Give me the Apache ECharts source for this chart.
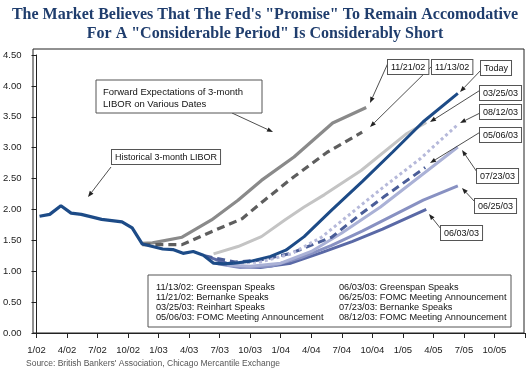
<!DOCTYPE html>
<html>
<head>
<meta charset="utf-8">
<script src="https://cdn.jsdelivr.net/npm/echarts@6/dist/echarts.min.js"></script>
<style>
  html, body { margin: 0; padding: 0; background: #fff; }
  #chart { width: 530px; height: 376px; }
</style>
</head>
<body>
<div id="chart"></div>
<script>
// months since 1/02 on the x axis
const tickLabels = ['1/02','4/02','7/02','10/02','1/03','4/03','7/03','10/03','1/04','4/04','7/04','10/04','1/05','4/05','7/05','10/05',''];

// historical 3-month LIBOR
const histX = [0.3,1.3,2.4,3.4,4.4,5.4,6.4,7.4,8.4,9.4,10.4,11.4,12.4,13.4,14.4,15.4,16.4,17.4,18.4,19.4];
const histY = [1.89,1.92,2.06,1.94,1.92,1.88,1.84,1.82,1.80,1.70,1.44,1.40,1.36,1.35,1.29,1.32,1.26,1.13,1.12,1.13];

// forward curves
const todayX = [19.4,21,23,24.5,26.3,29,32,35,38,41.4];
const todayY = [1.13,1.16,1.24,1.34,1.56,1.99,2.45,2.93,3.42,3.88];
const nov21X = [10.4,11.4,14.3,17.2,19.8,22.1,25.3,29.1,32.4];
const nov21Y = [1.45,1.46,1.55,1.83,2.15,2.47,2.85,3.40,3.65];
const nov13X = [10.4,14.3,17.2,20.2,22.4,25.3,28.6,32];
const nov13Y = [1.43,1.43,1.64,1.85,2.15,2.53,2.93,3.25];
const mar25X = [17.4,19.8,22.1,24.4,26.3,28.3,31.9,36.4,38.3];
const mar25Y = [1.28,1.40,1.56,1.83,2.04,2.24,2.63,3.23,3.41];
const aug12X = [19.5,22,25,28,31,34,37.7,41.3];
const aug12Y = [1.13,1.15,1.28,1.55,1.95,2.35,2.82,3.36];
const may06X = [16.5,19.5,22,25,29,31.5,34.1,38.2];
const may06Y = [1.25,1.15,1.18,1.29,1.55,1.88,2.20,2.68];
const jul23X = [18.7,21,24,27,30,33.8,41.4];
const jul23Y = [1.10,1.08,1.13,1.32,1.62,2.04,3.01];
const jun25X = [17.8,20,23,26,29,32,35,38,41.4];
const jun25Y = [1.12,1.06,1.08,1.22,1.42,1.65,1.90,2.15,2.38];
const jun03X = [17.1,19.5,22,25,28,31,34,38.3];
const jun03Y = [1.22,1.08,1.06,1.13,1.30,1.48,1.68,2.00];

const legendLeft = ['11/13/02: Greenspan Speaks','11/21/02: Bernanke Speaks','03/25/03: Reinhart Speaks','05/06/03: FOMC Meeting Announcement'];
const legendRight = ['06/03/03: Greenspan Speaks','06/25/03: FOMC Meeting Announcement','07/23/03: Bernanke Speaks','08/12/03: FOMC Meeting Announcement'];

const pairs = (xs, ys) => xs.map((x, i) => [x, ys[i]]);
const FONT = '"Liberation Sans", Arial, sans-serif';

function line(name, xs, ys, color, type, width) {
  return {
    name, type: 'line', data: pairs(xs, ys), showSymbol: false, symbol: 'none',
    lineStyle: { color, width: width || 3, type: type || 'solid', cap: 'butt' },
    emphasis: { disabled: true }, silent: true, animation: false
  };
}

// arrow from (x1,y1) to tip (x2,y2)
function arrow(x1, y1, x2, y2) {
  const a = Math.atan2(y2 - y1, x2 - x1), L = 6, W = 2.3;
  const bx = x2 - L * Math.cos(a), by = y2 - L * Math.sin(a);
  return [
    { type: 'line', shape: { x1, y1, x2: bx, y2: by }, style: { stroke: '#222', lineWidth: 0.8 }, z: 50 },
    { type: 'polygon', shape: { points: [[x2, y2], [bx + W * Math.sin(a), by - W * Math.cos(a)], [bx - W * Math.sin(a), by + W * Math.cos(a)]] }, style: { fill: '#222' }, z: 50 }
  ];
}

function box(text, x, y) {
  return {
    type: 'text', x, y, z: 60,
    style: { text, font: '9px ' + FONT, fill: '#111', backgroundColor: '#fff',
      borderColor: '#555', borderWidth: 1, padding: [3, 3, 2, 3] }
  };
}

const graphics = [
  // plot frame
  { type: 'rect', shape: { x: 33, y: 49, width: 491, height: 284 }, style: { fill: 'none', stroke: '#222', lineWidth: 1 }, z: 1 },
  // big annotation boxes
  { type: 'rect', shape: { x: 96, y: 80, width: 166, height: 33 }, style: { fill: '#fff', stroke: '#555', lineWidth: 1 }, z: 60 },
  { type: 'text', x: 103, y: 86, z: 61, style: { text: 'Forward Expectations of 3-month\nLIBOR on Various Dates', font: '9.5px ' + FONT, fill: '#111', lineHeight: 12 } },
  ...arrow(232, 113, 273, 132),
  box('Historical 3-month LIBOR', 112, 150),
  ...arrow(111, 167, 88, 197),
  // date labels
  box('11/21/02', 388, 60), ...arrow(388, 63, 370, 103),
  box('11/13/02', 432, 60), ...arrow(434, 64, 370, 127),
  box('Today', 481, 61), ...arrow(482, 69, 460, 92),
  box('03/25/03', 480, 86), ...arrow(482, 89, 430, 122),
  box('08/12/03', 480, 105), ...arrow(482, 112, 460, 123),
  box('05/06/03', 480, 128), ...arrow(482, 131, 430, 163),
  box('07/23/03', 477, 169), ...arrow(477, 172, 462, 150),
  box('06/25/03', 475, 199), ...arrow(475, 202, 462, 188),
  box('06/03/03', 441, 226), ...arrow(441, 229, 429, 214),
  // legend box
  { type: 'rect', shape: { x: 148, y: 275, width: 363, height: 52 }, style: { fill: '#fff', stroke: '#555', lineWidth: 1 }, z: 60 },
  { type: 'text', x: 156, y: 283, z: 61, style: { text: legendLeft.join('\n'), font: '9.2px ' + FONT, fill: '#111', lineHeight: 9.8 } },
  { type: 'text', x: 339, y: 283, z: 61, style: { text: legendRight.join('\n'), font: '9.2px ' + FONT, fill: '#111', lineHeight: 9.8 } },
  // source
  { type: 'text', x: 26, y: 359, style: { text: "Source: British Bankers' Association, Chicago Mercantile Exchange", font: '8.5px ' + FONT, fill: '#555' } }
];

const chart = echarts.init(document.getElementById('chart'), null, { renderer: 'canvas' });
chart.setOption({
  animation: false,
  title: {
    text: 'The Market Believes That The Fed\'s "Promise" To Remain Accomodative\nFor A "Considerable Period" Is Considerably Short',
    left: 'center', top: 0,
    textStyle: { fontFamily: '"Liberation Serif", serif', fontWeight: 'bold', fontSize: 16, color: '#1f3d6d', lineHeight: 19 }
  },
  grid: { left: 33, right: 5, top: 55, bottom: 43, containLabel: false },
  xAxis: {
    type: 'value', min: 0, max: 48, interval: 3,
    axisLine: { onZero: false, lineStyle: { color: '#222', width: 1 } },
    axisTick: { length: 5, lineStyle: { color: '#222' } },
    splitLine: { show: false },
    axisLabel: { margin: 12, fontSize: 9.5, fontFamily: FONT, color: '#222',
      formatter: v => tickLabels[Math.round(v / 3)] || '' }
  },
  yAxis: {
    type: 'value', min: 0, max: 4.5, interval: 0.5,
    axisLine: { show: true, lineStyle: { color: '#222', width: 1 } },
    axisTick: { show: true, length: 5, lineStyle: { color: '#222' } },
    splitLine: { show: false },
    axisLabel: { margin: 15, fontSize: 9.5, fontFamily: FONT, color: '#222', formatter: v => v.toFixed(2) }
  },
  series: [
    line('11/21/02', nov21X, nov21Y, '#8a8a8a', 'solid', 3.2),
    line('11/13/02', nov13X, nov13Y, '#5e5e5e', [8, 5], 3.2),
    line('03/25/03', mar25X, mar25Y, '#c4c4c4', 'solid', 3),
    line('06/03/03', jun03X, jun03Y, '#5a69a6', 'solid', 3),
    line('06/25/03', jun25X, jun25Y, '#8891c2', 'solid', 3),
    line('07/23/03', jul23X, jul23Y, '#aab1d6', 'solid', 3),
    line('05/06/03', may06X, may06Y, '#4a5d98', [8, 5], 3),
    line('08/12/03', aug12X, aug12Y, '#b6b9da', [3, 3], 3),
    line('Today', todayX, todayY, '#1d4b87', 'solid', 3),
    line('Historical', histX, histY, '#1d4b87', 'solid', 3.2)
  ],
  graphic: graphics
});
</script>
</body>
</html>
